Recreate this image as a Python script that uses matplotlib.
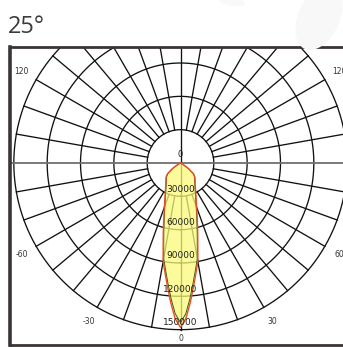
import numpy as np
import matplotlib.pyplot as plt
from matplotlib.patches import Ellipse

# ======================================
# Data
# ======================================
# beam profile: angle from nadir (deg) and luminous intensity (cd)
angles = [0, 2, 4, 6, 8, 10, 12, 14, 16, 18, 20, 25, 30, 35, 40, 45, 50, 55, 60, 70, 90]
intensity = [148000, 140000, 126000, 112000, 100000, 90000, 75000, 64000, 55000,
             48000, 42500, 33000, 27000, 23000, 20500, 18500, 15500, 9000, 3000, 0, 0]

ring_values = [30000, 60000, 90000, 120000, 150000]
ring_labels = ["30000", "60000", "90000", "120000", "150000"]

angle_ticks = [0, 30, -30, 60, -60, 120, -120]
angle_labels = ["0", "30", "-30", "60", "-60", "120", "120"]

title = "25°"


def to_xy(theta_deg, r):
    t = np.radians(theta_deg)
    return r * np.sin(t), -r * np.cos(t)


# ======================================
# Figure
# ======================================
fig = plt.figure(figsize=(3.43, 3.47), dpi=100)

# faint watermark in the background
fig.patches.append(Ellipse((0.93, 0.95), 0.12, 0.2, angle=-25, transform=fig.transFigure,
                           facecolor="#f8f8f8", edgecolor="none", zorder=0))
fig.patches.append(Ellipse((0.67, 1.0), 0.09, 0.03, angle=-15, transform=fig.transFigure,
                           facecolor="#f9f9f9", edgecolor="none", zorder=0))

fig.text(0.022, 0.905, title, fontsize=17, color="#3c3c3c", family="Open Sans")

ax = fig.add_axes([10 / 343, 2 / 347, 336 / 343, 298 / 347])
ax.set_xlim(-153450, 148950)
ax.set_ylim(-163800, 104400)
ax.set_xticks([])
ax.set_yticks([])
for s in ax.spines.values():
    s.set_color("#3b3434")
    s.set_linewidth(2)
ax.spines["left"].set_linewidth(2.6)

grid_kw = dict(color="#111111", lw=0.95, zorder=1)

# rings
th = np.linspace(0, 360, 721)
for rv in ring_values:
    x, y = to_xy(th, rv)
    ax.plot(x, y, **grid_kw)

# spokes every 10 degrees, starting at the inner ring
r_in, r_out = ring_values[0], ring_values[-1]
for a in range(0, 360, 10):
    if a % 90 == 0:
        continue
    x, y = to_xy(np.array([a, a]), np.array([r_in, r_out]))
    ax.plot(x, y, **grid_kw)

# main axes through the centre
ax.plot([0, 0], [-r_out, 200000], **grid_kw)
ax.axhline(0, color="#707070", lw=1.3, zorder=1)

# beam curves (symmetric)
a_full = np.concatenate([-np.array(angles[::-1]), np.array(angles[1:])])
i_full = np.concatenate([np.array(intensity[::-1]), np.array(intensity[1:])])
bx, by = to_xy(a_full, i_full)
ax.fill(bx, by, color="#fafa7a", alpha=0.75, lw=0, zorder=2)
gx, gy = to_xy(a_full, i_full * 0.97)
ax.plot(gx, gy, color="#3d5a1e", lw=0.7, zorder=3)
ax.plot(bx, by, color="#e8502a", lw=1.0, zorder=3)

# intensity labels
ax.text(0, 8000, "0", fontsize=6, ha="center", va="center", color="#222222", zorder=4)
for rv, lab in zip(ring_values, ring_labels):
    ax.text(0, -rv + 6500, lab, fontsize=6.5, ha="center", va="center",
            color="#222222", zorder=4)

# angle labels
for a, lab in zip(angle_ticks, angle_labels):
    x, y = to_xy(a, 165000 if abs(a) > 0 else 158000)
    ax.text(x, y, lab, fontsize=5.5, ha="center", va="center", color="#333333", zorder=4)

plt.savefig("out.png", dpi=100)
